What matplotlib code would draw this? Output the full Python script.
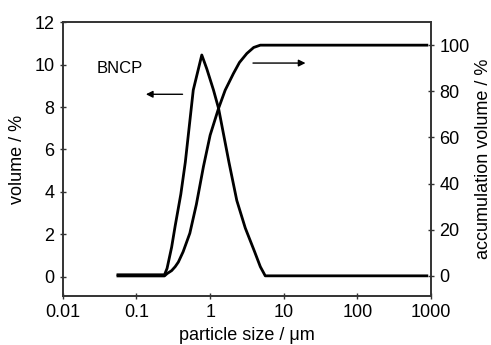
import numpy as np
import matplotlib.pyplot as plt

plt.rcParams['font.family'] = ['Liberation Sans', 'DejaVu Sans']

# particle size (um) and volume (%)
size_vol = [0.056, 0.1, 0.15, 0.24, 0.26, 0.3, 0.335, 0.4, 0.46, 0.59, 0.77, 0.9, 1.11,
            1.3, 1.8, 2.3, 3.0, 4.0, 4.8, 5.6, 10, 100, 875]
volume = [0.1, 0.1, 0.1, 0.1, 0.4, 1.4, 2.4, 3.9, 5.4, 8.8, 10.45, 9.8, 8.8,
          7.94, 5.4, 3.6, 2.3, 1.2, 0.48, 0.05, 0.05, 0.05, 0.05]

# particle size (um) and accumulated volume (%)
size_acc = [0.056, 0.1, 0.15, 0.24, 0.26, 0.3, 0.335, 0.37, 0.43, 0.53, 0.65, 0.81, 1.0,
            1.3, 1.6, 2.07, 2.5, 3.15, 3.9, 4.8, 10, 100, 875]
accum = [0.0, 0.0, 0.0, 0.0, 1.0, 2.3, 4.0, 6.0, 10.5, 18.5, 31.0, 47.3, 61.0,
         72.6, 80.5, 87.7, 92.5, 96.4, 99.0, 100, 100, 100, 100]

fig, ax = plt.subplots(figsize=(4.91, 3.45), dpi=100)
fig.subplots_adjust(left=0.128, right=0.878, bottom=0.142, top=0.936)
ax2 = ax.twinx()

ax.plot(size_vol, volume, color='black', lw=2)
ax2.plot(size_acc, accum, color='black', lw=2)

ax.set_xscale('log')
ax.set_xlim(0.01, 1000)
ax.set_xticks([0.01, 0.1, 1, 10, 100, 1000])
ax.set_xticklabels(['0.01', '0.1', '1', '10', '100', '1000'])
ax.minorticks_off()
ax.set_ylim(-0.9, 12)
ax.set_yticks(range(0, 13, 2))
ax2.set_ylim(-8.7, 110)
ax2.set_yticks(range(0, 101, 20))

ax.set_xlabel('particle size / \u03bcm', fontsize=13, labelpad=4)
ax.set_ylabel('volume / %', fontsize=13, labelpad=6)
ax2.set_ylabel('accumulation volume / %', fontsize=13, labelpad=4)

for a in (ax, ax2):
    a.tick_params(direction='inout', length=4, width=1, labelsize=13, color='#333333', pad=4)
    for s in a.spines.values():
        s.set_color('#333333')
        s.set_linewidth(1.2)

ax.text(0.029, 9.83, 'BNCP', fontsize=12, va='center', ha='left')
ax.annotate('', xy=(0.123, 8.6), xytext=(0.46, 8.6),
            arrowprops=dict(arrowstyle='-|>', color='black', lw=1, mutation_scale=10))
ax.annotate('', xy=(21.5, 10.07), xytext=(3.5, 10.07),
            arrowprops=dict(arrowstyle='-|>', color='black', lw=1, mutation_scale=10))

fig.savefig('out.png', dpi=100)
